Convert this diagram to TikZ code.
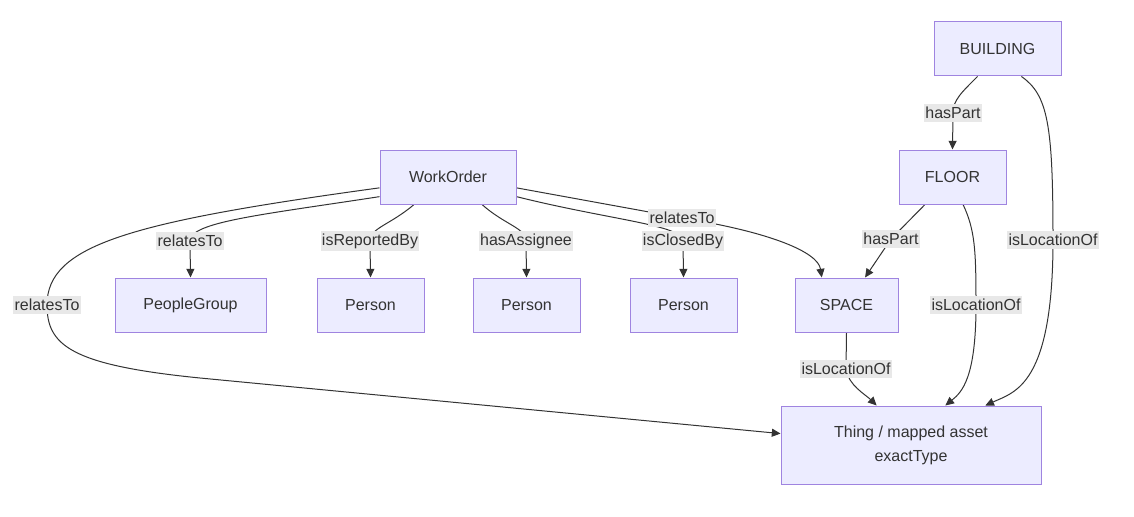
\documentclass[tikz,border=0pt]{standalone}
\usepackage{fontspec}
\setmainfont{Liberation Sans}
\usetikzlibrary{positioning,arrows.meta,backgrounds}
\definecolor{boxfill}{HTML}{ECECFF}
\definecolor{boxline}{HTML}{9F84E0}
\definecolor{edgecolor}{HTML}{333333}
\definecolor{labelfill}{HTML}{E8E8E8}

\begin{document}
\begin{tikzpicture}[
  x=0.75pt,y=-0.75pt,
  font=\fontsize{12}{18}\selectfont,
  entity/.style={fill=boxfill,draw=boxline,line width=0.75pt,text=edgecolor,minimum height=40.5pt,align=center},
  rel/.style={fill=labelfill,text=edgecolor,inner xsep=1pt,inner ysep=2pt},
  edge/.style={draw=edgecolor,line width=0.75pt},
  arr/.style={edge,-{Triangle[length=6.5pt,width=6pt]}},
]
\useasboundingbox (0,0) rectangle (1134,517);

% --- NODES ---
\node[entity,minimum width=95.25pt] (building) at (997.5,49) {BUILDING};
\node[entity,minimum width=80.25pt] (floor) at (952.5,177) {FLOOR};
\node[entity,minimum width=102pt] (workorder) at (448,177) {WorkOrder};
\node[entity,minimum width=113.25pt] (peoplegroup) at (190.5,305) {PeopleGroup};
\node[entity,minimum width=80.25pt] (reporter) at (370.5,305) {Person};
\node[entity,minimum width=80.25pt] (assignee) at (526.5,305) {Person};
\node[entity,minimum width=80.25pt] (closer) at (683.5,305) {Person};
\node[entity,minimum width=77.25pt] (space) at (846.5,305) {SPACE};
\node[entity,minimum width=195pt,minimum height=58.5pt] (thing) at (911,445) {Thing / mapped asset\\exactType};

% --- EDGE LABELS ---
\node[rel] (hasPartB) at (953,113) {hasPart};
\node[rel] (hasPartF) at (891,239) {hasPart};
\node[rel] (locB) at (1053,240) {isLocationOf};
\node[rel] (locF) at (976,305) {isLocationOf};
\node[rel] (locS) at (846,369) {isLocationOf};
\node[rel] (relPG) at (190,241) {relatesTo};
\node[rel] (reported) at (370,241) {isReportedBy};
\node[rel] (assigned) at (526,241) {hasAssignee};
\node[rel] (closed) at (683,241) {isClosedBy};
\node[rel] (relSpace) at (682,218) {relatesTo};
\node[rel] (relThing) at (47,305) {relatesTo};

% --- EDGES ---
\begin{scope}[on background layer]
  % workorder
  \draw[arr] (workorder.196) .. controls (260,215) and (190,222) .. (relPG.center) -- (peoplegroup.north);
  \draw[arr] (workorder.189) .. controls (130,222) and (47,245) .. (relThing.center)
    .. controls (47,345) and (70,365) .. (200,378) -- (thing.175);
  \draw[arr] (workorder.219) .. controls (390,225) and (370,228) .. (reported.center) -- (reporter.north);
  \draw[arr] (workorder.321) .. controls (505,225) and (526,228) .. (assigned.center) -- (assignee.north);
  \draw[arr] (workorder.344) .. controls (610,220) and (683,225) .. (closed.center) -- (closer.north);
  \draw[arr] (workorder.351) -- (relSpace.center) .. controls (770,232) and (818,252) .. (space.132);
  % building / floor / space
  \draw[arr] (building.234) .. controls (962,92) and (953,100) .. (hasPartB.center) -- (floor.north);
  \draw[arr] (building.311) .. controls (1048,95) and (1053,125) .. (locB.center)
    .. controls (1053,385) and (1015,392) .. (thing.28);
  \draw[arr] (floor.291) .. controls (975,230) and (976,250) .. (locF.center)
    .. controls (976,378) and (962,392) .. (thing.49);
  \draw[arr] (floor.225) -- (hasPartF.center) -- (space.56);
  \draw[arr] (space.south) .. controls (846,350) .. (locS.center)
    .. controls (848,385) and (866,395) .. (thing.131);
\end{scope}

\end{tikzpicture}
\end{document}
